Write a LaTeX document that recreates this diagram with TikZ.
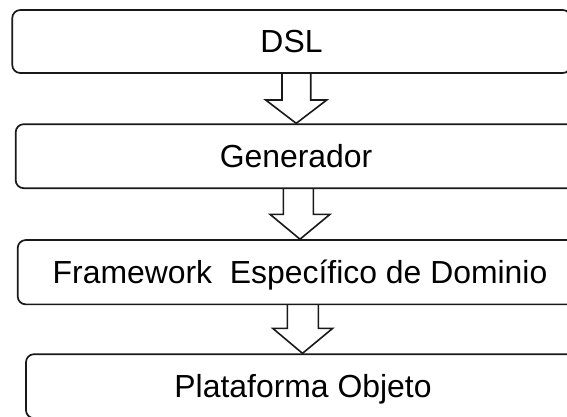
\documentclass[tikz,border=0pt]{standalone}
\usepackage{fontspec}
\setmainfont{Liberation Sans}
\usetikzlibrary{calc}
\begin{document}
\begin{tikzpicture}[x=1pt,y=-1pt,
  stage/.style={draw=black!90, line width=1.7pt, rounded corners=8pt,
    inner sep=0pt, text height=22.8pt, text depth=0pt,
    font=\fontsize{31.9}{36}\selectfont},
  blockarrow/.style={draw=black!90, line width=1.6pt, line join=miter}]
\useasboundingbox (0,0) rectangle (567,416);

% the four stages, one below the other
\node[stage, minimum width=558.4pt, minimum height=63pt]   (dsl) at (291.5,41.5)  {DSL};
\node[stage, minimum width=560.6pt, minimum height=64pt]   (gen) at (296,156.2)   {Generador};
\node[stage, minimum width=564.6pt, minimum height=64.3pt] (fw)  at (300,272.2)   {Framework\ \ Específico de Dominio};
\node[stage, minimum width=554pt,   minimum height=64pt]   (po)  at (303,386.2)   {Plataforma Objeto};

% hollow block arrows between consecutive stages
\draw[blockarrow] let \p1=(dsl.south), \p2=(gen.north) in
  (282,\y1) -- (282,100) -- (265.7,100) -- (296.2,\y2)
  -- (326.7,100) -- (310.7,100) -- (310.7,\y1);
\draw[blockarrow] let \p1=(gen.south), \p2=(fw.north) in
  (283.3,\y1) -- (283.3,214.3) -- (270,214.3) -- (300,\y2)
  -- (330,214.3) -- (313.3,214.3) -- (313.3,\y1);
\draw[blockarrow] let \p1=(fw.south), \p2=(po.north) in
  (287.3,\y1) -- (287.3,328.3) -- (272.7,328.3) -- (302.5,\y2)
  -- (332.7,328.3) -- (318.3,328.3) -- (318.3,\y1);
\end{tikzpicture}
\end{document}
